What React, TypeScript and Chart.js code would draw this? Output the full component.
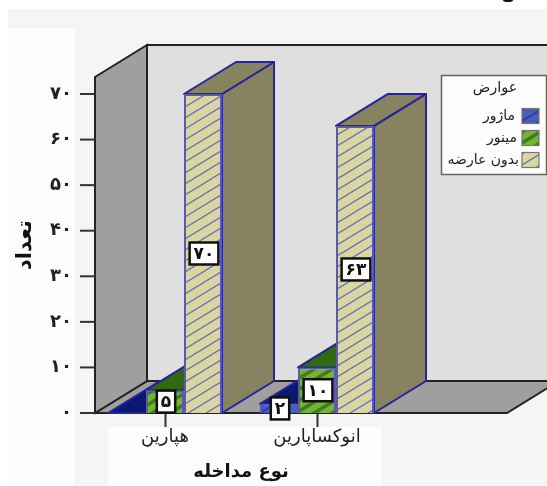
import React, { useEffect, useRef } from "react";
import { Chart, registerables } from "chart.js";

Chart.register(...registerables);

const categories = ["هپارین", "انوکساپارین"];
const seriesNames = ["ماژور", "مینور", "بدون عارضه"];
const majorValues = [0, 2];
const minorValues = [5, 10];
const noneValues = [70, 63];
const yTickValues = [0, 10, 20, 30, 40, 50, 60, 70];
const yTickLabels = ["۰", "۱۰", "۲۰", "۳۰", "۴۰", "۵۰", "۶۰", "۷۰"];
const dataLabels: Record<number, string> = { 2: "۲", 5: "۵", 10: "۱۰", 63: "۶۳", 70: "۷۰" };
const legendTitle = "عوارض";
const xTitle = "نوع مداخله";
const yTitle = "تعداد";

const FONT = '"DejaVu Sans", sans-serif';
const DEPTH_X = 52;
const DEPTH_Y = 32;

const hatch = (bg: string, stripe: string, lw: number) => {
  const W = 18;
  const H = 11;
  const c = document.createElement("canvas");
  c.width = W;
  c.height = H;
  const g = c.getContext("2d")!;
  g.fillStyle = bg;
  g.fillRect(0, 0, W, H);
  g.strokeStyle = stripe;
  g.lineWidth = lw;
  [-H, 0, H].forEach((dy) => {
    g.beginPath();
    g.moveTo(-W, H + H + dy);
    g.lineTo(W + W, dy - H);
    g.stroke();
  });
  return g.createPattern(c, "repeat")!;
};

const poly = (ctx: CanvasRenderingContext2D, pts: number[][], fill?: string | null, stroke?: string | null, lw = 2) => {
  ctx.beginPath();
  pts.forEach(([x, y], i) => (i ? ctx.lineTo(x, y) : ctx.moveTo(x, y)));
  ctx.closePath();
  if (fill) {
    ctx.fillStyle = fill;
    ctx.fill();
  }
  if (stroke) {
    ctx.strokeStyle = stroke;
    ctx.lineWidth = lw;
    ctx.stroke();
  }
};

const faceColors = ["#0a1a72", "#2f6a10", "#878260"];
const EDGE = "#25259a";

const backdrop = {
  id: "backdrop",
  beforeDraw(chart: any) {
    const { ctx, width, height } = chart;
    ctx.save();
    ctx.fillStyle = "#ffffff";
    ctx.fillRect(0, 0, width, height);
    ctx.fillStyle = "#f4f6f6";
    ctx.fillRect(8, 9, width - 8, height - 9);
    ctx.fillStyle = "#fdfdfd";
    ctx.fillRect(8, 28, 67, height - 28);
    ctx.fillRect(108, 427, 273, height - 427);
    ctx.fillStyle = "#111";
    ctx.beginPath();
    ctx.ellipse(508, 0, 5, 2, 0, 0, Math.PI * 2);
    ctx.fill();
    ctx.restore();
  },
};

const walls = {
  id: "walls",
  beforeDatasetsDraw(chart: any) {
    const { ctx, scales, width } = chart;
    const y = scales.y;
    const x0 = chart.chartArea.left + 6;
    const y0 = y.getPixelForValue(0);
    const yt = chart.chartArea.top;
    const bx = x0 + DEPTH_X;
    const by = y0 - DEPTH_Y;
    const bt = yt - DEPTH_Y;
    const K = "#222222";
    ctx.save();
    ctx.lineJoin = "miter";
    poly(ctx, [[bx, bt], [width + 4, bt], [width + 4, by], [bx, by]], "#dfdfdf", K, 2);
    const fr = 507;
    poly(ctx, [[x0, y0], [bx, by], [fr + DEPTH_X, by], [fr, y0]], "#a09e9f", K, 2);
    poly(ctx, [[x0, yt], [bx, bt], [bx, by], [x0, y0]], "#a09e9f", K, 2);
    ctx.strokeStyle = "#333";
    ctx.lineWidth = 2;
    y.ticks.forEach((t: any) => {
      const py = y.getPixelForValue(t.value);
      ctx.beginPath();
      ctx.moveTo(80, py);
      ctx.lineTo(x0, py);
      ctx.stroke();
    });
    // Series are painted left to right, so a bar's front hides its left neighbour's depth faces.
    ctx.lineJoin = "round";
    chart.data.datasets.forEach((ds: any, i: number) => {
      const meta = chart.getDatasetMeta(i);
      meta.data.forEach((bar: any, j: number) => {
        const l = bar.x - bar.width / 2;
        const r = bar.x + bar.width / 2;
        const t = y.getPixelForValue(ds.data[j]);
        poly(ctx, [[r, y0], [r + DEPTH_X, y0 - DEPTH_Y], [r + DEPTH_X, t - DEPTH_Y], [r, t]], faceColors[i], EDGE, 2);
        poly(ctx, [[l, t], [r, t], [r + DEPTH_X, t - DEPTH_Y], [l + DEPTH_X, t - DEPTH_Y]], faceColors[i], EDGE, 2);
      });
      meta.controller.draw();
    });
    ctx.restore();
    return false;
  },
};

const overlays = {
  id: "overlays",
  afterDraw(chart: any) {
    const { ctx, scales } = chart;
    ctx.save();
    chart.data.datasets.forEach((ds: any, i: number) => {
      chart.getDatasetMeta(i).data.forEach((bar: any, j: number) => {
        const v = ds.data[j];
        if (!v) return;
        const text = dataLabels[v];
        const py = scales.y.getPixelForValue(v / 2);
        ctx.font = `bold 17px ${FONT}`;
        const w = Math.max(ctx.measureText(text).width + 8, 17);
        const h = 22;
        const cx = bar.x + 1;
        ctx.fillStyle = "#ffffff";
        ctx.strokeStyle = "#111111";
        ctx.lineWidth = 2.5;
        ctx.fillRect(cx - w / 2, py - h / 2, w, h);
        ctx.strokeRect(cx - w / 2, py - h / 2, w, h);
        ctx.fillStyle = "#111111";
        ctx.textAlign = "center";
        ctx.textBaseline = "middle";
        ctx.fillText(text, cx, py + 1);
      });
    });
    const bx = 441.5, by = 75.5, bw = 105, bh = 99;
    ctx.fillStyle = "#fdfdfd";
    ctx.strokeStyle = "#666666";
    ctx.lineWidth = 1.5;
    ctx.fillRect(bx, by, bw, bh);
    ctx.strokeRect(bx, by, bw, bh);
    ctx.fillStyle = "#222";
    ctx.textBaseline = "middle";
    ctx.textAlign = "center";
    ctx.font = `14.5px ${FONT}`;
    ctx.fillText(legendTitle, 495, 88);
    const rows = [116, 138, 160];
    const ends = [515, 517, 519];
    chart.data.datasets.forEach((ds: any, i: number) => {
      ctx.fillStyle = ds.backgroundColor;
      ctx.fillRect(522, rows[i] - 7.5, 17, 15);
      ctx.strokeStyle = "#777";
      ctx.lineWidth = 1.2;
      ctx.strokeRect(522, rows[i] - 7.5, 17, 15);
      ctx.fillStyle = "#222";
      ctx.textAlign = "right";
      ctx.font = `14px ${FONT}`;
      ctx.fillText(ds.label, ends[i], rows[i]);
    });
    ctx.restore();
  },
};

export default function App() {
  const ref = useRef<HTMLCanvasElement>(null);
  useEffect(() => {
    const patterns = [
      hatch("#4a5cbc", "#2f3f9c", 2),
      hatch("#74b42e", "#3f7a26", 3.5),
      hatch("#d8d6a2", "#6f6db0", 1.4),
    ];
    const values = [majorValues, minorValues, noneValues];
    const chart = new Chart(ref.current!, {
      type: "bar",
      data: {
        labels: categories,
        datasets: seriesNames.map((label, i) => ({
          label,
          data: values[i],
          backgroundColor: patterns[i],
          borderColor: "#5a5ab4",
          borderWidth: 2,
          categoryPercentage: 0.75,
          barPercentage: 1,
        })),
      },
      options: {
        animation: false,
        responsive: false,
        devicePixelRatio: 1,
        layout: { padding: { top: 77, right: 154, left: 0, bottom: 0 } },
        plugins: { legend: { display: false }, tooltip: { enabled: false } },
        scales: {
          x: {
            offset: true,
            afterFit: (s: any) => {
              s.height = 73;
            },
            border: { display: false },
            grid: { drawOnChartArea: false, offset: false, tickLength: 14, tickWidth: 2, tickColor: "#333" },
            ticks: { color: "#222", padding: 0, maxRotation: 0, font: { family: FONT, size: 18 } },
            title: {
              display: true,
              text: xTitle,
              color: "#111",
              padding: { top: 0, bottom: 3 },
              font: { family: FONT, size: 18, weight: "bold" },
            },
          },
          y: {
            min: 0,
            max: 73.73,
            afterFit: (s: any) => {
              s.width = 89;
            },
            afterBuildTicks: (s: any) => {
              s.ticks = yTickValues.map((value) => ({ value }));
            },
            border: { display: false },
            grid: { display: false, drawTicks: false },
            ticks: {
              color: "#222",
              padding: 17,
              font: { family: FONT, size: 18, weight: "bold" },
              callback: (v: any) => yTickLabels[yTickValues.indexOf(v)],
            },
            title: {
              display: true,
              text: yTitle,
              color: "#111",
              padding: { top: 13, bottom: 0 },
              font: { family: FONT, size: 21, weight: "bold" },
            },
          },
        },
      },
      plugins: [backdrop, walls, overlays],
    } as any);
    return () => chart.destroy();
  }, []);
  return (
    <canvas
      ref={ref}
      width={547}
      height={486}
      style={{ position: "absolute", left: 0, top: 0, display: "block" }}
    />
  );
}
